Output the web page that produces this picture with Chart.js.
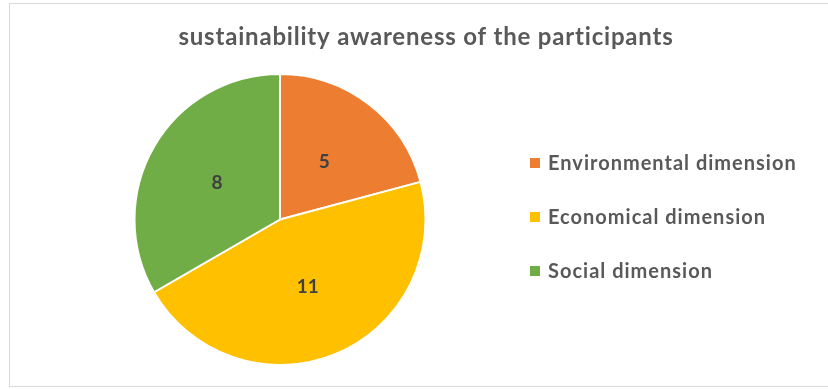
<!DOCTYPE html>
<html>
<head>
<meta charset="utf-8">
<script src="https://cdn.jsdelivr.net/npm/chart.js@4.4.1/dist/chart.umd.min.js"></script>
<style>
  html, body { margin: 0; padding: 0; background: #fff; }
  #frame { position: absolute; left: 9px; top: 3px; width: 830px; height: 382px; border: 1px solid #d9d9d9; }
  #wrap { position: absolute; left: 0; top: 0; width: 828px; height: 389px; }
</style>
</head>
<body>
<div id="frame"></div>
<div id="wrap"><canvas id="pie"></canvas></div>
<script>
const titleText = "sustainability awareness of the participants";
const categories = ["Environmental dimension", "Economical dimension", "Social dimension"];
const counts = [5, 11, 8];
const colors = ["#ED7D31", "#FFC000", "#70AD47"];

const FONT = "Lato, 'Open Sans', sans-serif";

// title, legend and slice values drawn by hand (Excel-like placement)
const decorations = {
  id: "decorations",
  afterDatasetsDraw(chart) {
    const ctx = chart.ctx;
    ctx.save();

    // title
    ctx.fillStyle = "#595959";
    ctx.font = "bold 24px " + FONT;
    ctx.letterSpacing = "0.8px";
    ctx.textAlign = "center";
    ctx.textBaseline = "middle";
    ctx.fillText(titleText, 426, 37);

    // values in the slices
    ctx.letterSpacing = "0px";
    ctx.fillStyle = "#404040";
    ctx.font = "bold 19px " + FONT;
    chart.getDatasetMeta(0).data.forEach((arc, i) => {
      const p = arc.tooltipPosition();
      ctx.fillText(String(counts[i]), p.x, p.y);
    });

    // legend
    ctx.font = "bold 20px " + FONT;
    ctx.letterSpacing = "1px";
    ctx.textAlign = "left";
    categories.forEach((name, i) => {
      const y = 163 + i * 54;
      ctx.fillStyle = colors[i];
      ctx.fillRect(530, y - 5, 10, 10);
      ctx.fillStyle = "#595959";
      ctx.fillText(name, 548, y + 1);
    });
    ctx.restore();
  }
};

new Chart(document.getElementById("pie"), {
  type: "pie",
  data: {
    labels: categories,
    datasets: [{
      data: counts,
      backgroundColor: colors,
      borderColor: "#ffffff",
      borderWidth: 2
    }]
  },
  options: {
    responsive: true,
    maintainAspectRatio: false,
    animation: false,
    devicePixelRatio: 1,
    layout: { padding: { left: 40, right: 308, top: 73, bottom: 23 } },
    plugins: {
      legend: { display: false },
      title: { display: false },
      tooltip: { enabled: false }
    }
  },
  plugins: [decorations]
});
</script>
</body>
</html>
